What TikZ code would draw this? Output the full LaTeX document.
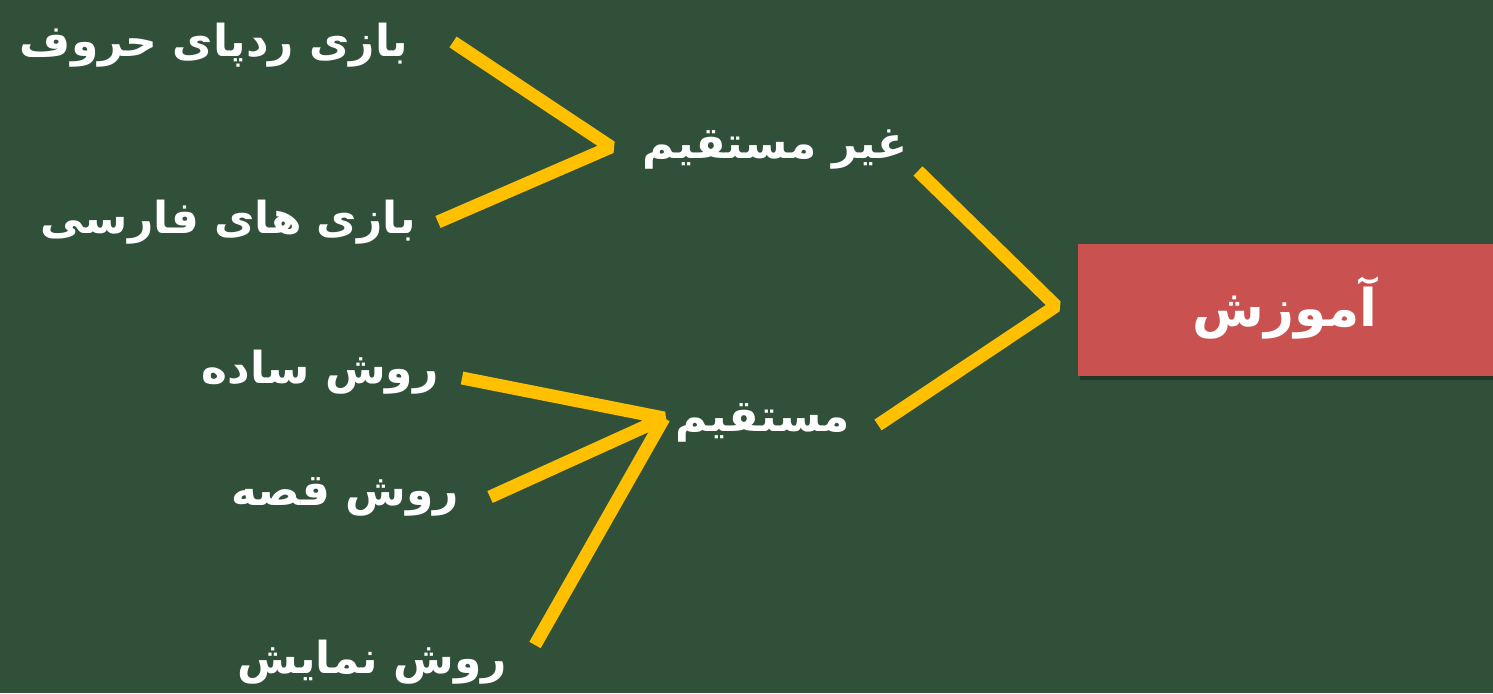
\documentclass[tikz,border=0pt]{standalone}
\usepackage{fontspec}
\TeXXeTstate=1
\newfontfamily\arabicfont[Script=Arabic]{DejaVu Sans}
\definecolor{board}{HTML}{30503A}
\definecolor{chalk}{HTML}{FFC000}
\definecolor{tag}{HTML}{C95150}
\tikzset{
  lbl/.style={text=white, font=\arabicfont\bfseries\fontsize{44}{52}\selectfont, inner sep=0pt},
  bigl/.style={text=white, font=\arabicfont\bfseries\fontsize{52}{62}\selectfont, inner sep=0pt},
  bracket/.style={draw=chalk, line width=13pt, line join=bevel},
  tagbox/.style={fill=tag, minimum width=415pt, minimum height=132pt, inner sep=0pt}
}
\begin{document}
\begin{tikzpicture}[x=1pt,y=-1pt]
\fill[board] (0,0) rectangle (1493,693);
\useasboundingbox (0,0) rectangle (1493,693);
% red tag
\fill[black, opacity=0.3] (1080,249) rectangle (1493,380);
\node[tagbox] (root) at (1285.5,310) {};
\node[bigl] (amoozesh) at (1285,308) {\beginR آموزش\endR};
% labels
\node[lbl] (indirect) at (775,150) {\beginR غیر مستقیم\endR};
\node[lbl] (direct) at (763,423) {\beginR مستقیم\endR};
\node[lbl] (g1) at (214,45) {\beginR بازی ردپای حروف\endR};
\node[lbl] (g2) at (228,222) {\beginR بازی های فارسی\endR};
\node[lbl] (m1) at (320,372) {\beginR روش ساده\endR};
\node[lbl] (m2) at (345,497) {\beginR روش قصه\endR};
\node[lbl] (m3) at (372,662) {\beginR روش نمایش\endR};
% bracket coordinates
\coordinate (a1) at (453,42);
\coordinate (av) at (611,147);
\coordinate (a2) at (438,222);
\coordinate (b1) at (918,171);
\coordinate (bv) at (1056,306);
\coordinate (b2) at (878,425);
\coordinate (c1) at (462,378);
\coordinate (cv) at (664,418);
\coordinate (c2) at (490,497);
\coordinate (c3) at (535,645);
% brackets
\draw[bracket] (a1) -- (av) -- (a2);
\draw[bracket] (b1) -- (bv) -- (b2);
\draw[bracket] (c1) -- (cv) -- (c2);
\draw[bracket] (cv) -- (c3);
\end{tikzpicture}
\end{document}
